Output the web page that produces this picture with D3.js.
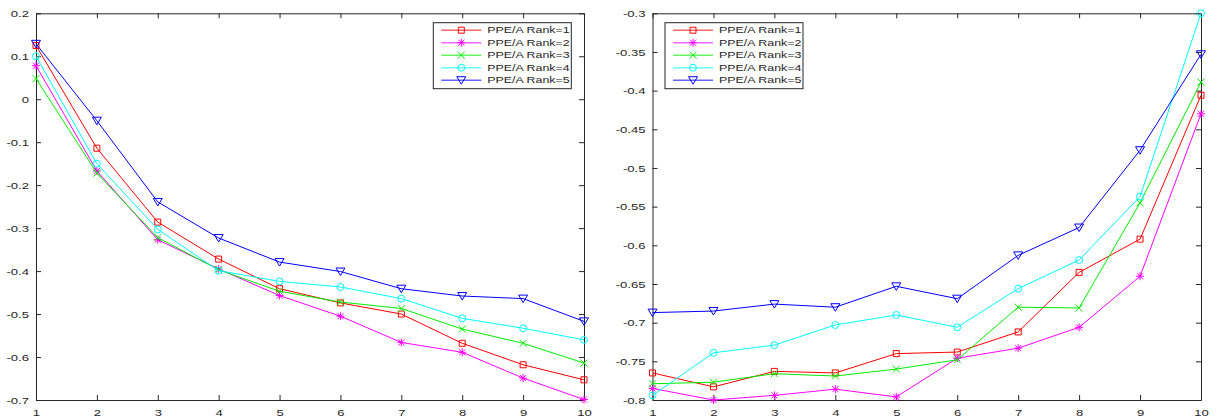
<!DOCTYPE html>
<html>
<head>
<meta charset="utf-8">
<script src="https://cdn.jsdelivr.net/npm/d3@7"></script>
<style>
  body { margin: 0; background: #fff; }
  text { font-family: "Liberation Sans", Arial, sans-serif; }
</style>
</head>
<body>
<div id="chart"></div>
<script>
const xValues = [1, 2, 3, 4, 5, 6, 7, 8, 9, 10];
const seriesNames = ["PPE/A Rank=1", "PPE/A Rank=2", "PPE/A Rank=3", "PPE/A Rank=4", "PPE/A Rank=5"];
const seriesColors = ["#ff0000", "#ff00ff", "#00ee00", "#00ffff", "#0000ff"];
const seriesMarkers = ["square", "star", "cross", "circle", "triangle"];

// left panel values
const leftRank1 = [0.125, -0.114, -0.286, -0.372, -0.441, -0.474, -0.500, -0.568, -0.618, -0.653];
const leftRank2 = [0.078, -0.167, -0.327, -0.395, -0.457, -0.505, -0.566, -0.589, -0.649, -0.699];
const leftRank3 = [0.048, -0.172, -0.322, -0.397, -0.447, -0.472, -0.487, -0.535, -0.568, -0.614];
const leftRank4 = [0.100, -0.150, -0.303, -0.399, -0.424, -0.437, -0.464, -0.510, -0.533, -0.560];
const leftRank5 = [0.129, -0.050, -0.239, -0.323, -0.379, -0.401, -0.441, -0.458, -0.464, -0.517];
const leftTicksY = [0.2, 0.1, 0, -0.1, -0.2, -0.3, -0.4, -0.5, -0.6, -0.7];

// right panel values
const rightRank1 = [-0.765, -0.783, -0.763, -0.765, -0.740, -0.738, -0.712, -0.635, -0.592, -0.406];
const rightRank2 = [-0.785, -0.800, -0.794, -0.786, -0.796, -0.746, -0.733, -0.706, -0.640, -0.430];
const rightRank3 = [-0.779, -0.777, -0.766, -0.769, -0.760, -0.748, -0.680, -0.681, -0.545, -0.389];
const rightRank4 = [-0.794, -0.739, -0.729, -0.703, -0.690, -0.706, -0.656, -0.619, -0.537, -0.300];
const rightRank5 = [-0.687, -0.685, -0.676, -0.680, -0.653, -0.669, -0.613, -0.577, -0.477, -0.353];
const rightTicksY = [-0.3, -0.35, -0.4, -0.45, -0.5, -0.55, -0.6, -0.65, -0.7, -0.75, -0.8];

const W = 1217, H = 418;
const axisColor = "#262626";
const stretch = 1.38; // the source figure's text is stretched sideways

const svg = d3.select("#chart").append("svg")
  .attr("width", W)
  .attr("height", H);

function markerPath(type) {
  if (type === "square") return "M-3,-3H3V3H-3Z";
  if (type === "circle") return d3.symbol(d3.symbolCircle, 38)();
  if (type === "cross") return "M-3.5,-3.5L3.5,3.5M-3.5,3.5L3.5,-3.5";
  if (type === "star") return "M-4,0H4M0,-4V4M-3,-3L3,3M-3,3L3,-3";
  // downward triangle
  return "M-4.5,-3.5H4.5L0,4Z";
}

function drawPanel(left, right, top, bottom, yDomain, yTicks, series, legendX) {
  const x = d3.scaleLinear().domain([1, 10]).range([left, right]);
  const y = d3.scaleLinear().domain(yDomain).range([bottom, top]);
  const fmt = d => String(Math.round(d * 100) / 100);

  const g = svg.append("g");

  // inward ticks on all four sides, MATLAB style
  g.append("g")
    .attr("transform", "translate(0," + bottom + ")")
    .call(d3.axisBottom(x).tickValues(xValues).tickSize(-5).tickSizeOuter(0).tickPadding(9).tickFormat(d3.format("d")));
  g.append("g")
    .attr("transform", "translate(0," + top + ")")
    .call(d3.axisTop(x).tickValues(xValues).tickSize(-5).tickSizeOuter(0).tickFormat(""));
  g.append("g")
    .attr("class", "yleft")
    .attr("transform", "translate(" + left + ",0)")
    .call(d3.axisLeft(y).tickValues(yTicks).tickSize(-5).tickSizeOuter(0).tickPadding(5).tickFormat(fmt));
  g.append("g")
    .attr("transform", "translate(" + right + ",0)")
    .call(d3.axisRight(y).tickValues(yTicks).tickSize(-5).tickSizeOuter(0).tickFormat(""));

  g.selectAll(".domain").attr("stroke", axisColor);
  g.selectAll(".tick line").attr("stroke", axisColor);
  g.selectAll(".tick text")
    .attr("fill", axisColor)
    .attr("transform", "scale(" + stretch + ",1)")
    .style("font-size", "9.5px")
    .style("font-family", "'Liberation Sans', Arial, sans-serif");
  g.selectAll(".yleft .tick text").attr("x", -7 / stretch);

  const line = d3.line()
    .x((d, i) => x(xValues[i]))
    .y(d => y(d));

  series.forEach(function (vals, s) {
    g.append("path")
      .datum(vals)
      .attr("fill", "none")
      .attr("stroke", seriesColors[s])
      .attr("stroke-width", 1)
      .attr("d", line);

    g.selectAll(".m" + s)
      .data(vals)
      .enter()
      .append("path")
      .attr("class", "m" + s)
      .attr("transform", (d, i) => "translate(" + x(xValues[i]) + "," + y(d) + ")")
      .attr("d", markerPath(seriesMarkers[s]))
      .attr("fill", "none")
      .attr("stroke", seriesColors[s])
      .attr("stroke-width", 1);
  });

  // legend box
  const legend = g.append("g").attr("transform", "translate(" + legendX + ",22.7)");
  legend.append("rect")
    .attr("width", 138)
    .attr("height", 66)
    .attr("fill", "#fff")
    .attr("stroke", axisColor)
    .attr("stroke-width", 1);

  seriesNames.forEach(function (name, s) {
    const ry = 7.5 + s * 12.5;
    legend.append("line")
      .attr("x1", 8).attr("x2", 48)
      .attr("y1", ry).attr("y2", ry)
      .attr("stroke", seriesColors[s])
      .attr("stroke-opacity", 0.6)
      .attr("stroke-width", 1.5);
    legend.append("path")
      .attr("transform", "translate(28," + ry + ")")
      .attr("d", markerPath(seriesMarkers[s]))
      .attr("fill", "none")
      .attr("stroke", seriesColors[s]);
    legend.append("text")
      .attr("transform", "translate(54," + ry + ") scale(" + stretch + ",1)")
      .attr("dy", "0.35em")
      .attr("fill", axisColor)
      .style("font-size", "9px")
      .text(name);
  });
}

drawPanel(36, 584, 13.3, 400, [-0.7, 0.2], leftTicksY,
  [leftRank1, leftRank2, leftRank3, leftRank4, leftRank5], 433.3);
drawPanel(652.5, 1201, 13.3, 400, [-0.8, -0.3], rightTicksY,
  [rightRank1, rightRank2, rightRank3, rightRank4, rightRank5], 665);
</script>
</body>
</html>
